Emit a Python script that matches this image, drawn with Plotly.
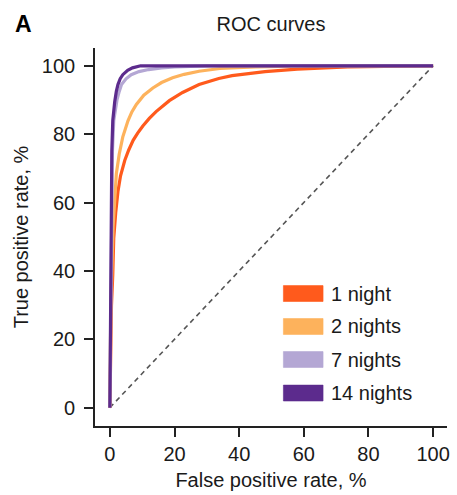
import plotly.graph_objects as go

# ---------------- data ----------------
series_names = ["1 night", "2 nights", "7 nights", "14 nights"]
series_colors = ["#FF5A1C", "#FDB25C", "#B4A7D4", "#5C2B8D"]

fpr_1night = [0, 0.5, 0.9, 1.2, 1.8, 2.5, 3.3, 4.6, 5.8, 7.2, 8.6, 10.2, 12.2, 14.3,
              18.4, 22.5, 27.6, 33.7, 37.8, 43, 48, 58, 66, 73.6, 85, 100]
tpr_1night = [0, 30, 39, 49.6, 57, 63.2, 67.8, 72.3, 75.3, 78.2, 80.3, 82.4, 84.6, 86.6,
              89.8, 92.2, 94.5, 96.3, 97.1, 97.8, 98.3, 99.0, 99.4, 99.65, 99.85, 100]

fpr_2nights = [0, 0.3, 1.0, 1.5, 2.0, 2.9, 4.0, 5.6, 6.8, 8.2, 10.5, 13.3, 16.0, 19.4,
               23.0, 27.6, 34, 45, 60, 100]
tpr_2nights = [0, 30, 53, 62, 68.4, 74.2, 79.2, 83.9, 86.5, 88.7, 91.4, 93.5, 95.1, 96.5,
               97.5, 98.4, 99.2, 99.7, 100, 100]

fpr_7nights = [0, 0.3, 0.5, 0.8, 1.2, 1.7, 2.2, 2.9, 3.6, 5.0, 6.6, 9.0, 12, 16, 20, 30, 100]
tpr_7nights = [0, 40, 60, 75, 84, 87.5, 90, 92.5, 94.5, 96.2, 97.4, 98.3, 98.9, 99.4, 99.7, 100, 100]

fpr_14nights = [0, 0.2, 0.4, 0.6, 0.9, 1.2, 1.5, 2.0, 2.5, 3.2, 4.0, 5.5, 7.0, 9.5, 100]
tpr_14nights = [0, 30, 60, 75, 84, 87.5, 89.5, 92.5, 94.5, 96.2, 97.4, 98.7, 99.4, 100, 100]

chance_x = [0, 100]
chance_y = [0, 100]

x_ticks = [0, 20, 40, 60, 80, 100]
y_ticks = [0, 20, 40, 60, 80, 100]

# ---------------- figure ----------------
W, H = 457, 495
ML, MR, MT, MB = 95, 7, 48, 66
TXT = "#1a1a1a"
FONT = "Liberation Sans, Arial, sans-serif"

fig = go.Figure()
fig.add_trace(go.Scatter(x=chance_x, y=chance_y, mode="lines",
                         line=dict(color="#555555", width=1.6, dash="5px,4px"),
                         showlegend=False, hoverinfo="skip"))

all_x = [fpr_1night, fpr_2nights, fpr_7nights, fpr_14nights]
all_y = [tpr_1night, tpr_2nights, tpr_7nights, tpr_14nights]
for name, col, xs, ys in zip(series_names, series_colors, all_x, all_y):
    fig.add_trace(go.Scatter(x=xs, y=ys, mode="lines", name=name,
                             line=dict(color=col, width=3.2),
                             showlegend=False))

# custom legend (filled rectangles + labels), placed in pixel terms
pw, ph = W - ML - MR, H - MT - MB
def px_x(p):
    return (p - ML) / pw
def px_y(p):
    return (H - MB - p) / ph

shapes, annotations = [], []
row_centers = [295.5, 328.7, 362.0, 395.8]
for name, col, cy in zip(series_names, series_colors, row_centers):
    shapes.append(dict(type="rect", xref="paper", yref="paper",
                       x0=px_x(285), x1=px_x(325), y0=px_y(cy + 8), y1=px_y(cy - 8),
                       fillcolor=col, line=dict(width=0.6, color=col), layer="above"))
    annotations.append(dict(xref="paper", yref="paper", x=px_x(331), y=px_y(cy),
                            text=name, showarrow=False, xanchor="left", yanchor="middle",
                            font=dict(size=20, color=TXT, family=FONT)))

# panel letter
annotations.append(dict(xref="paper", yref="paper", x=px_x(12), y=px_y(24),
                        text="<b>A</b>", showarrow=False, xanchor="left", yanchor="middle",
                        font=dict(size=23, color="#000000", family=FONT)))

axis_common = dict(showline=True, linecolor="#222222", linewidth=1.6,
                   ticks="outside", ticklen=9, tickwidth=1.6, tickcolor="#222222",
                   showgrid=False, zeroline=False,
                   tickfont=dict(size=20, color=TXT, family=FONT))

fig.update_layout(
    width=W, height=H,
    margin=dict(l=ML, r=MR, t=MT, b=MB),
    paper_bgcolor="white", plot_bgcolor="white",
    font=dict(family=FONT, color=TXT),
    title=dict(text="ROC curves", x=0.5, xref="paper", xanchor="center",
               y=1 - 24 / H, yref="container", yanchor="middle",
               font=dict(size=20, color=TXT, family=FONT)),
    xaxis=dict(range=[-4.6, 104.3], tickvals=x_ticks, ticktext=[str(v) for v in x_ticks],
               title=dict(text="False positive rate, %", font=dict(size=20, color=TXT, family=FONT),
                          standoff=9),
               **axis_common),
    yaxis=dict(range=[-5.37, 105.2], tickvals=y_ticks, ticktext=[str(v) for v in y_ticks],
               ticklabelstandoff=5,
               title=dict(text="True positive rate, %", font=dict(size=20, color=TXT, family=FONT),
                          standoff=8),
               **axis_common),
    shapes=shapes,
    annotations=annotations,
)

fig.write_html("out.html")
